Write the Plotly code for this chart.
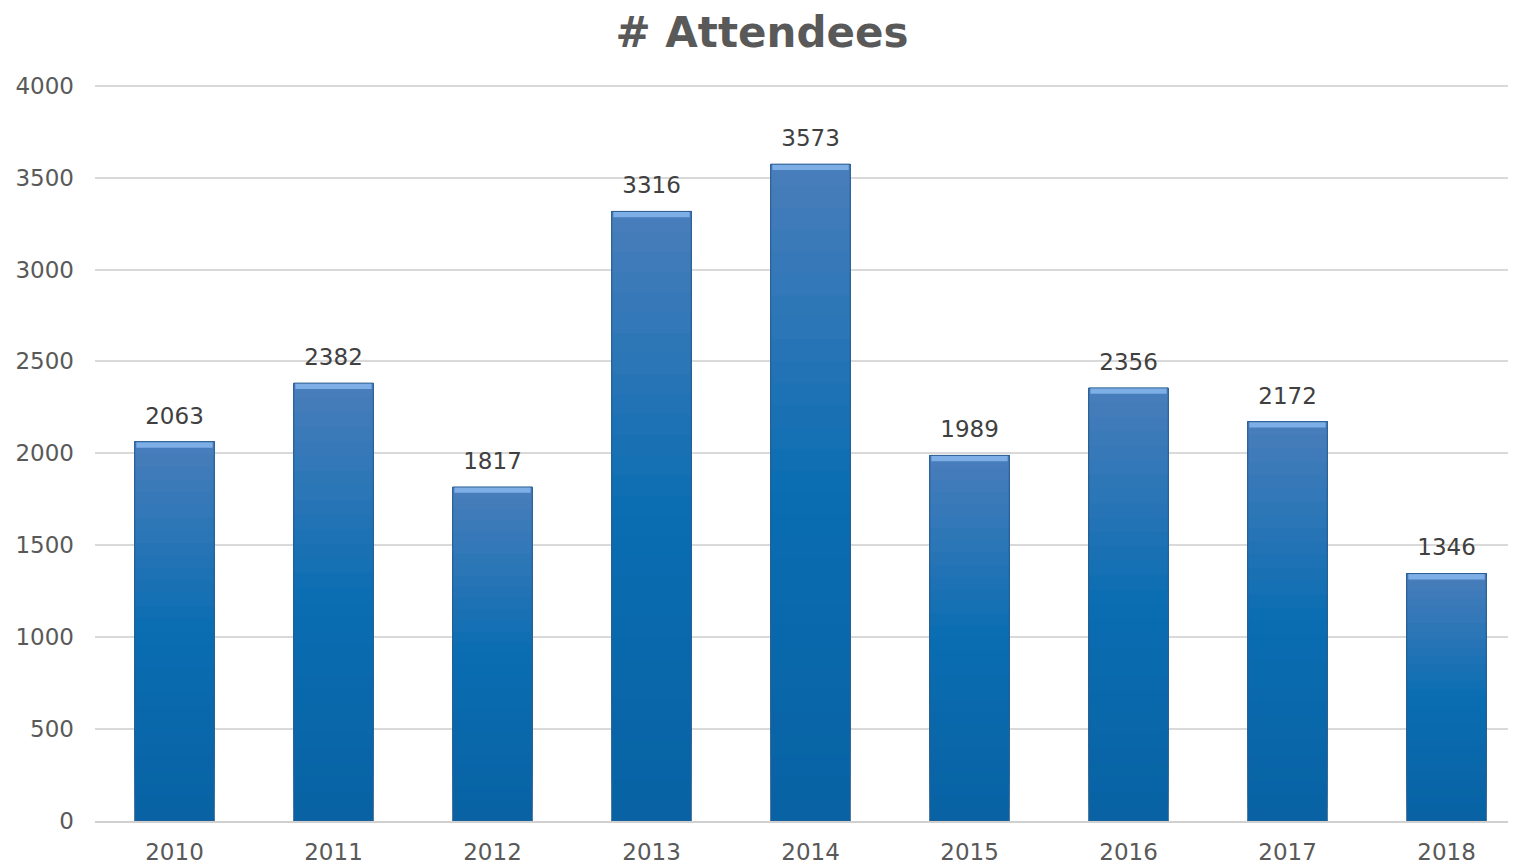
import plotly.graph_objects as go
import numpy as np

years = ["2010", "2011", "2012", "2013", "2014", "2015", "2016", "2017", "2018"]
attendees = [2063, 2382, 1817, 3316, 3573, 1989, 2356, 2172, 1346]
y_ticks = [0, 500, 1000, 1500, 2000, 2500, 3000, 3500, 4000]

FONT = "Verdana, DejaVu Sans, sans-serif"
N_SEG = 30
BAR_W = 0.5
BEVEL = 32
LABEL_PAD = 55

def hex2rgb(h):
    h = h.lstrip("#")
    return np.array([int(h[i:i + 2], 16) for i in (0, 2, 4)], dtype=float)

stops = [(0.0, hex2rgb("#4A7EBB")), (0.5, hex2rgb("#0A6DB2")), (1.0, hex2rgb("#0862A3"))]

def color_at(f):
    for (f0, c0), (f1, c1) in zip(stops[:-1], stops[1:]):
        if f0 <= f <= f1:
            t = (f - f0) / (f1 - f0)
            c = c0 + (c1 - c0) * t
            return "rgb(%d,%d,%d)" % tuple(c.round())
    return "rgb(8,98,163)"

vals = np.array(attendees, dtype=float)
x_idx = list(range(len(years)))

fig = go.Figure()

# gradient: each layer spans from its start to the bar top; later layers cover upper part
for k in range(N_SEG):
    f_from_top = 1 - (k + 0.5) / N_SEG
    base = vals * k / N_SEG
    fig.add_trace(go.Bar(
        x=x_idx, y=vals - base, base=base, width=BAR_W,
        marker=dict(color=color_at(f_from_top), line=dict(width=0)),
        hoverinfo="skip", showlegend=False,
    ))

# top highlight bevel
fig.add_trace(go.Bar(
    x=x_idx, y=[BEVEL] * len(vals), base=vals - BEVEL, width=BAR_W * 0.96,
    marker=dict(color="#7DAFE6", line=dict(width=0)),
    hoverinfo="skip", showlegend=False,
))

# outline
fig.add_trace(go.Bar(
    x=x_idx, y=vals, width=BAR_W,
    marker=dict(color="rgba(0,0,0,0)", line=dict(color="#2B5D8F", width=1)),
    hoverinfo="skip", showlegend=False,
))

# data labels
fig.add_trace(go.Bar(
    x=x_idx, y=vals + LABEL_PAD, width=BAR_W,
    marker=dict(color="rgba(0,0,0,0)", line=dict(width=0)),
    text=[str(v) for v in attendees], textposition="outside",
    textfont=dict(family=FONT, size=23, color="#404040"),
    cliponaxis=False, showlegend=False, hoverinfo="skip",
))

fig.update_layout(
    barmode="overlay",
    width=1508, height=857,
    margin=dict(l=87, r=0, t=74, b=44, autoexpand=False),
    paper_bgcolor="white", plot_bgcolor="white",
    title=dict(text="<b># Attendees</b>", x=0.5, xanchor="center", y=1 - 24 / 857, yanchor="middle",
               font=dict(family=FONT, size=42, color="#595959")),
    xaxis=dict(
        tickmode="array", tickvals=x_idx, ticktext=years,
        range=[-0.5, 8.437], showgrid=False, zeroline=False,
        showline=True, linecolor="#D0D0D0", linewidth=1.5,
        tickfont=dict(family=FONT, size=23, color="#595959"),
        ticks="", ticklabelstandoff=10, automargin=False,
    ),
    yaxis=dict(
        range=[0, 4020], tickvals=y_ticks, showgrid=True, gridcolor="#D9D9D9", gridwidth=1.5,
        zeroline=False, showline=False,
        tickfont=dict(family=FONT, size=23, color="#595959"),
        ticks="", ticklabelstandoff=20, automargin=False,
    ),
)

fig.write_html("out.html")
